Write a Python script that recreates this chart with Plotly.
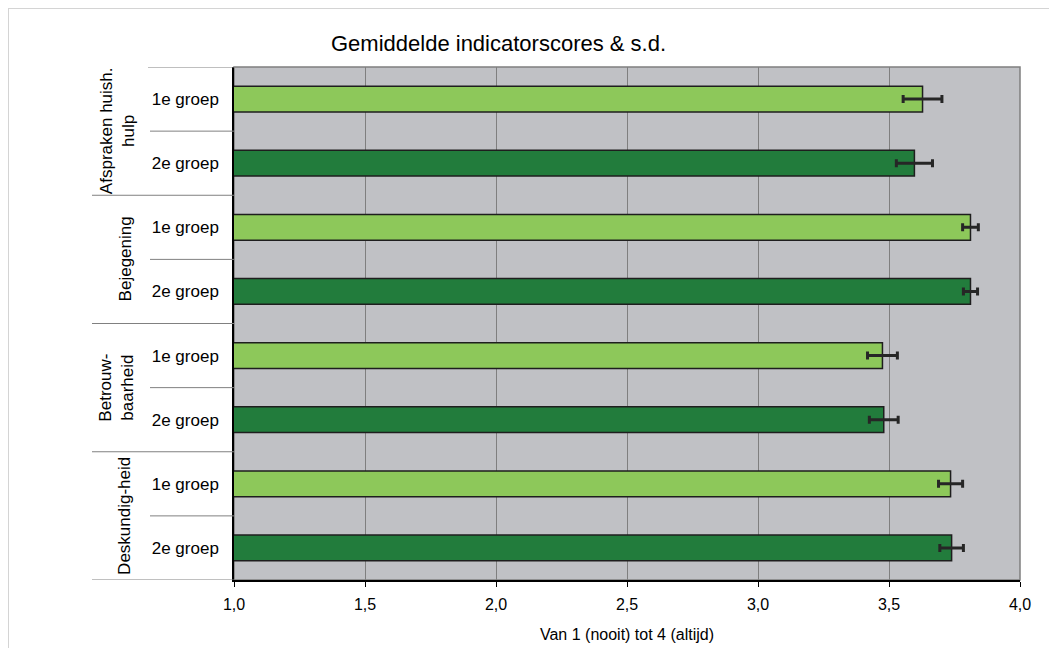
import plotly.graph_objects as go

# ---- data ----
groups = ["Afspraken huish.<br>hulp", "Bejegening", "Betrouw-<br>baarheid", "Deskundig-heid"]
subgroups = ["1e groep", "2e groep"]
mean_1e = [3.628, 3.811, 3.475, 3.735]
sd_1e = [0.074, 0.030, 0.057, 0.046]
mean_2e = [3.597, 3.811, 3.480, 3.739]
sd_2e = [0.069, 0.027, 0.055, 0.045]
x_ticks = [1.0, 1.5, 2.0, 2.5, 3.0, 3.5, 4.0]

title_text = "Gemiddelde indicatorscores & s.d."
x_title = "Van 1 (nooit) tot 4 (altijd)"

FONT = "Liberation Sans, Arial, sans-serif"
LIGHT = "#8DC85A"
DARK = "#227C3C"

OFF = 8  # page body margin
W, H = 1057 - OFF, 648 - OFF
L, T = 234 - OFF, 67 - OFF
R = W - (1020 - OFF)
B = H - (580 - OFF)
pw = W - L - R
ph = H - T - B


def px_x(px):
    return (px - OFF - L) / pw


def px_y(py):
    return 1 - (py - OFF - T) / ph


n = len(groups)
y1 = [2 * i for i in range(n)]
y2 = [2 * i + 1 for i in range(n)]

fig = go.Figure()
fig.add_trace(go.Bar(
    x=mean_1e, y=y1, orientation="h", width=0.4, name=subgroups[0],
    marker=dict(color=LIGHT, line=dict(color="#1E1E1E", width=1.5)),
    error_x=dict(type="data", array=sd_1e, color="#262626", thickness=3, width=4),
))
fig.add_trace(go.Bar(
    x=mean_2e, y=y2, orientation="h", width=0.4, name=subgroups[1],
    marker=dict(color=DARK, line=dict(color="#1E1E1E", width=1.5)),
    error_x=dict(type="data", array=sd_2e, color="#262626", thickness=3, width=4),
))

shapes = []
# outer chart frame (left and top edges)
shapes.append(dict(type="line", xref="paper", yref="paper",
                   x0=-L / pw + 0.5 / pw, x1=-L / pw + 0.5 / pw, y0=-B / ph, y1=1 + T / ph,
                   line=dict(color="#D4D4D4", width=1), layer="below"))
shapes.append(dict(type="line", xref="paper", yref="paper",
                   x0=-L / pw, x1=1 + R / pw, y0=1 + T / ph - 0.5 / ph, y1=1 + T / ph - 0.5 / ph,
                   line=dict(color="#D4D4D4", width=1), layer="below"))
# plot area border
shapes.append(dict(type="rect", xref="paper", yref="paper",
                   x0=0, x1=1, y0=0, y1=1,
                   line=dict(color="#7F7F7F", width=1.5), layer="below"))
# category separators
for k in range(2 * n + 1):
    yb = k - 0.5
    if k == 0:
        x0 = px_x(148)
    elif k % 2 == 0:
        x0 = px_x(92)
    else:
        x0 = px_x(150)
    shapes.append(dict(type="line", xref="paper", yref="y",
                       x0=x0, x1=0, y0=yb, y1=yb,
                       line=dict(color="#808080", width=1)))

annotations = []
annotations.append(dict(text=title_text, xref="paper", yref="paper",
                        x=px_x(498), y=px_y(43), xanchor="center", yanchor="middle",
                        showarrow=False, font=dict(family=FONT, size=22, color="#000")))
for i, g in enumerate(groups):
    two = "<br>" in g
    annotations.append(dict(text=g, xref="paper", yref="y",
                            x=px_x(117 if two else 125), y=2 * i + 0.5,
                            xanchor="center", yanchor="middle", textangle=-90,
                            showarrow=False,
                            font=dict(family=FONT, size=17, color="#000")))

fig.update_layout(
    width=W, height=H,
    margin=dict(l=L, r=R, t=T, b=B, autoexpand=False),
    paper_bgcolor="white",
    plot_bgcolor="#C0C1C5",
    barmode="overlay",
    showlegend=False,
    separators=",.",
    font=dict(family=FONT, size=16, color="#000"),
    shapes=shapes,
    annotations=annotations,
    xaxis=dict(
        range=[1, 4], tickvals=x_ticks, tickformat=".1f",
        showgrid=True, gridcolor="#7F7F7F", gridwidth=1,
        showline=True, linecolor="#000", linewidth=1.5,
        ticks="outside", ticklen=5, tickcolor="#000",
        zeroline=False, ticklabelstandoff=4, automargin=False,
        title=dict(text=x_title, standoff=17, font=dict(family=FONT, size=16)),
        tickfont=dict(family=FONT, size=16),
    ),
    yaxis=dict(
        range=[2 * n - 0.5, -0.5],
        tickvals=y1 + y2,
        ticktext=[subgroups[0]] * n + [subgroups[1]] * n,
        showgrid=False, zeroline=False, automargin=False,
        showline=True, linecolor="#000", linewidth=1.5,
        ticks="", ticklabelstandoff=10,
        tickfont=dict(family=FONT, size=17),
    ),
)

fig.write_html("out.html")
